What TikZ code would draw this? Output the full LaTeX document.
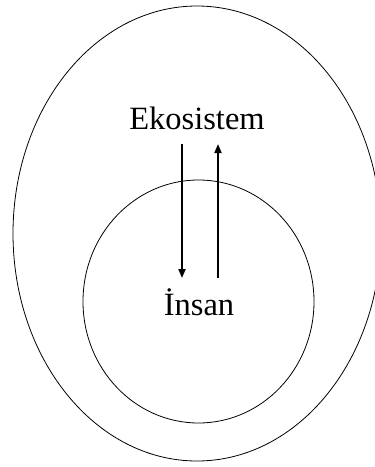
\documentclass[tikz,border=0pt]{standalone}
\usepackage{fontspec}
\setmainfont{Liberation Serif}
\usepackage{tikz}
\usetikzlibrary{positioning,calc,arrows.meta}

\begin{document}
\begin{tikzpicture}[
    x=1pt, y=1pt,
    ring/.style={draw, line width=0.8pt},
    label/.style={
        inner sep=0pt,
        anchor=base,
        font=\fontsize{32.5}{39}\selectfont
    },
    arrow/.style={-{Triangle[length=9pt, width=7pt]}, line width=2pt}
]

\useasboundingbox (0,0) rectangle (375,-467);
\clip (0,0) rectangle (375,-467);

% ecosystem and human
\draw[ring] (197,-233.5) ellipse [x radius=184, y radius=227.5];
\draw[ring] (198.5,-301.5) ellipse [x radius=115.5, y radius=121.5];

\node[label] (eko) at (197,-129) {Ekosistem};
\node[label] (insan) at (199,-315) {İnsan};

\draw[arrow] ($(eko.base)+(-15,-15)$) -- ($(insan.base)+(-17,37)$);
\draw[arrow] ($(insan.base)+(19,37)$) -- ($(eko.base)+(21,-15)$);

\end{tikzpicture}
\end{document}
